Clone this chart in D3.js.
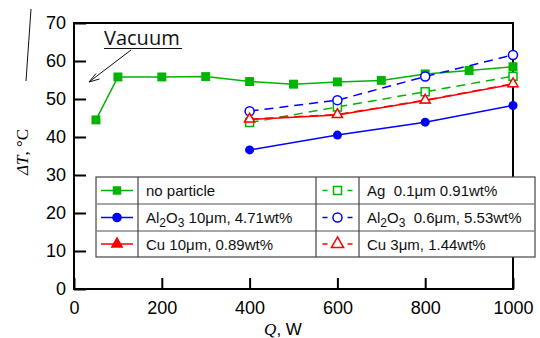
<!DOCTYPE html>
<html>
<head>
<meta charset="utf-8">
<script src="https://cdn.jsdelivr.net/npm/d3@7"></script>
<style>
  body { margin: 0; background: #fff; }
  svg { display: block; }
</style>
</head>
<body>
<svg id="chart" width="540" height="338"></svg>
<script>
// heat input Q (W) and temperature difference (deg C)
const qNoParticle = [50, 100, 200, 300, 400, 500, 600, 700, 800, 900, 1000];
const dtNoParticle = [44.5, 55.8, 55.8, 55.9, 54.6, 53.9, 54.5, 54.9, 56.6, 57.5, 58.5];

const qParticle = [400, 600, 800, 1000];
const dtAl10 = [36.6, 40.5, 43.9, 48.3];
const dtCu10 = [44.6, 45.8, 49.6, 53.9];
const dtAg = [43.8, 47.9, 51.9, 56.0];
const dtAl06 = [46.8, 49.7, 55.9, 61.6];
const dtCu3 = [44.7, 45.9, 49.7, 54.0];

const xTicks = [0, 200, 400, 600, 800, 1000];
const yTicks = [0, 10, 20, 30, 40, 50, 60, 70];

const svg = d3.select('#chart');
const x = d3.scaleLinear().domain([0, 1000]).range([74, 513]);
const y = d3.scaleLinear().domain([0, 70]).range([289, 23]);

const GREEN = '#00b400', BLUE = '#0000ff', RED = '#ff0000';

// series styles
const series = [
  { q: qNoParticle, v: dtNoParticle, color: GREEN, dash: null, sym: d3.symbolSquare, size: 80, open: false },
  { q: qParticle, v: dtAl10, color: BLUE, dash: null, sym: d3.symbolCircle, size: 64, open: false },
  { q: qParticle, v: dtCu10, color: RED, dash: null, sym: d3.symbolTriangle, size: 50, open: false },
  { q: qParticle, v: dtAg, color: GREEN, dash: '9,6', sym: d3.symbolSquare, size: 64, open: true },
  { q: qParticle, v: dtAl06, color: BLUE, dash: '9,6', sym: d3.symbolCircle, size: 64, open: true },
  { q: qParticle, v: dtCu3, color: RED, dash: '9,6', sym: d3.symbolTriangle, size: 45, open: true }
];

// axes (inward ticks)
const tickFont = 'Liberation Sans, Arial, sans-serif';
const gx = svg.append('g').attr('transform', 'translate(0,289)')
  .call(d3.axisBottom(x).tickValues(xTicks).tickFormat(d3.format('d'))
    .tickSize(-11).tickPadding(12).tickSizeOuter(0));
const gy = svg.append('g').attr('transform', 'translate(74,0)')
  .call(d3.axisLeft(y).tickValues(yTicks).tickFormat(d3.format('d'))
    .tickSize(-12).tickPadding(8).tickSizeOuter(0));
[gx, gy].forEach(g => {
  g.select('.domain').remove();
  g.selectAll('line').attr('stroke', '#000').attr('stroke-width', 2);
  g.selectAll('text').attr('font-family', tickFont).attr('font-size', 18).attr('fill', '#000');
});

// frame
svg.append('rect')
  .attr('x', x(0)).attr('y', y(70))
  .attr('width', x(1000) - x(0)).attr('height', y(0) - y(70))
  .attr('fill', 'none').attr('stroke', '#000').attr('stroke-width', 2);

// lines and markers
const line = d3.line().x(d => x(d[0])).y(d => y(d[1]));
series.forEach(s => {
  const pts = s.q.map((q, i) => [q, s.v[i]]);
  svg.append('path').datum(pts)
    .attr('d', line)
    .attr('fill', 'none')
    .attr('stroke', s.color)
    .attr('stroke-width', 1.5)
    .attr('stroke-dasharray', s.dash);
  svg.append('g').selectAll('path').data(pts).enter().append('path')
    .attr('transform', d => `translate(${x(d[0])},${y(d[1])})`)
    .attr('d', d3.symbol().type(s.sym).size(s.size))
    .attr('fill', s.open ? '#fff' : s.color)
    .attr('stroke', s.color)
    .attr('stroke-width', s.open ? 1.5 : 0);
});

// legend
const legendLabels = [
  ['no particle', 'Ag  0.1\u03bcm 0.91wt%'],
  ['Al2O3 10\u03bcm, 4.71wt%', 'Al2O3  0.6\u03bcm, 5.53wt%'],
  ['Cu 10\u03bcm, 0.89wt%', 'Cu 3\u03bcm, 1.44wt%']
];
const legendOrder = [[0, 3], [1, 4], [2, 5]];
const lg = svg.append('g');
const colX = [96, 138, 316, 359, 535];
const rowY = [177, 204, 231, 257];
lg.append('rect').attr('x', colX[0]).attr('y', rowY[0])
  .attr('width', colX[4] - colX[0]).attr('height', rowY[3] - rowY[0])
  .attr('fill', '#fff').attr('stroke', '#444').attr('stroke-width', 1.2);
[rowY[1], rowY[2]].forEach(yy => lg.append('line')
  .attr('x1', colX[0]).attr('x2', colX[4]).attr('y1', yy).attr('y2', yy)
  .attr('stroke', '#888').attr('stroke-width', 1.5));
[colX[1], colX[2], colX[3]].forEach(xx => lg.append('line')
  .attr('x1', xx).attr('x2', xx).attr('y1', rowY[0]).attr('y2', rowY[3])
  .attr('stroke', '#444').attr('stroke-width', 1.2));

legendOrder.forEach((row, r) => {
  const cy = (rowY[r] + rowY[r + 1]) / 2;
  row.forEach((si, c) => {
    const s = series[si];
    const x0 = colX[c * 2], x1 = colX[c * 2 + 1];
    const mx = (x0 + x1) / 2;
    if (s.dash) {
      lg.append('line').attr('x1', mx - 15).attr('x2', mx - 10).attr('y1', cy).attr('y2', cy)
        .attr('stroke', s.color).attr('stroke-width', 1.5);
      lg.append('line').attr('x1', mx + 10).attr('x2', mx + 15).attr('y1', cy).attr('y2', cy)
        .attr('stroke', s.color).attr('stroke-width', 1.5);
    } else {
      lg.append('line').attr('x1', mx - 16).attr('x2', mx + 16).attr('y1', cy).attr('y2', cy)
        .attr('stroke', s.color).attr('stroke-width', 1.5);
    }
    lg.append('path')
      .attr('transform', `translate(${mx},${cy})`)
      .attr('d', d3.symbol().type(s.sym).size(s.open ? 64 : 72))
      .attr('fill', s.open ? '#fff' : s.color)
      .attr('stroke', s.color)
      .attr('stroke-width', s.open ? 1.5 : 0);

    const label = legendLabels[r][c];
    const t = lg.append('text')
      .attr('x', x1 + 8).attr('y', cy + 5.5)
      .attr('font-family', tickFont).attr('font-size', 15).attr('fill', '#111');
    if (label.startsWith('Al2O3')) {
      t.append('tspan').text('Al');
      t.append('tspan').attr('font-size', 12).attr('dy', 4).text('2');
      t.append('tspan').attr('dy', -4).text('O');
      t.append('tspan').attr('font-size', 12).attr('dy', 4).text('3');
      t.append('tspan').attr('dy', -4).attr('xml:space', 'preserve').text(label.slice(5));
    } else {
      t.attr('xml:space', 'preserve').text(label);
    }
  });
});

// axis titles
const yl = svg.append('text')
  .attr('transform', 'translate(28,152) rotate(-90)')
  .attr('text-anchor', 'middle')
  .attr('font-family', 'Liberation Serif, Times New Roman, serif')
  .attr('font-size', 17);
yl.append('tspan').attr('font-style', 'italic').text('\u0394T');
yl.append('tspan').text(', \u00b0C');

const xl = svg.append('text')
  .attr('x', 283).attr('y', 335)
  .attr('text-anchor', 'middle')
  .attr('font-size', 17);
xl.append('tspan').attr('font-family', 'Liberation Serif, serif').attr('font-style', 'italic').text('Q');
xl.append('tspan').attr('font-family', tickFont).text(', W');

// annotation
svg.append('text').attr('x', 104).attr('y', 45)
  .attr('font-family', 'Open Sans, sans-serif').attr('font-size', 20).attr('fill', '#111')
  .text('Vacuum');
svg.append('line').attr('x1', 104).attr('x2', 182).attr('y1', 48.5).attr('y2', 48.5)
  .attr('stroke', '#111').attr('stroke-width', 1.2);
svg.append('line').attr('x1', 131).attr('y1', 50).attr('x2', 89).attr('y2', 82)
  .attr('stroke', '#111').attr('stroke-width', 1);
svg.append('path').attr('d', 'M96,73.5 L89,82 L99.5,79')
  .attr('fill', 'none').attr('stroke', '#111').attr('stroke-width', 1);

// stray slanted stroke at top left
svg.append('line').attr('x1', 31).attr('y1', 9).attr('x2', 26).attr('y2', 81)
  .attr('stroke', '#111').attr('stroke-width', 1);
</script>
</body>
</html>
